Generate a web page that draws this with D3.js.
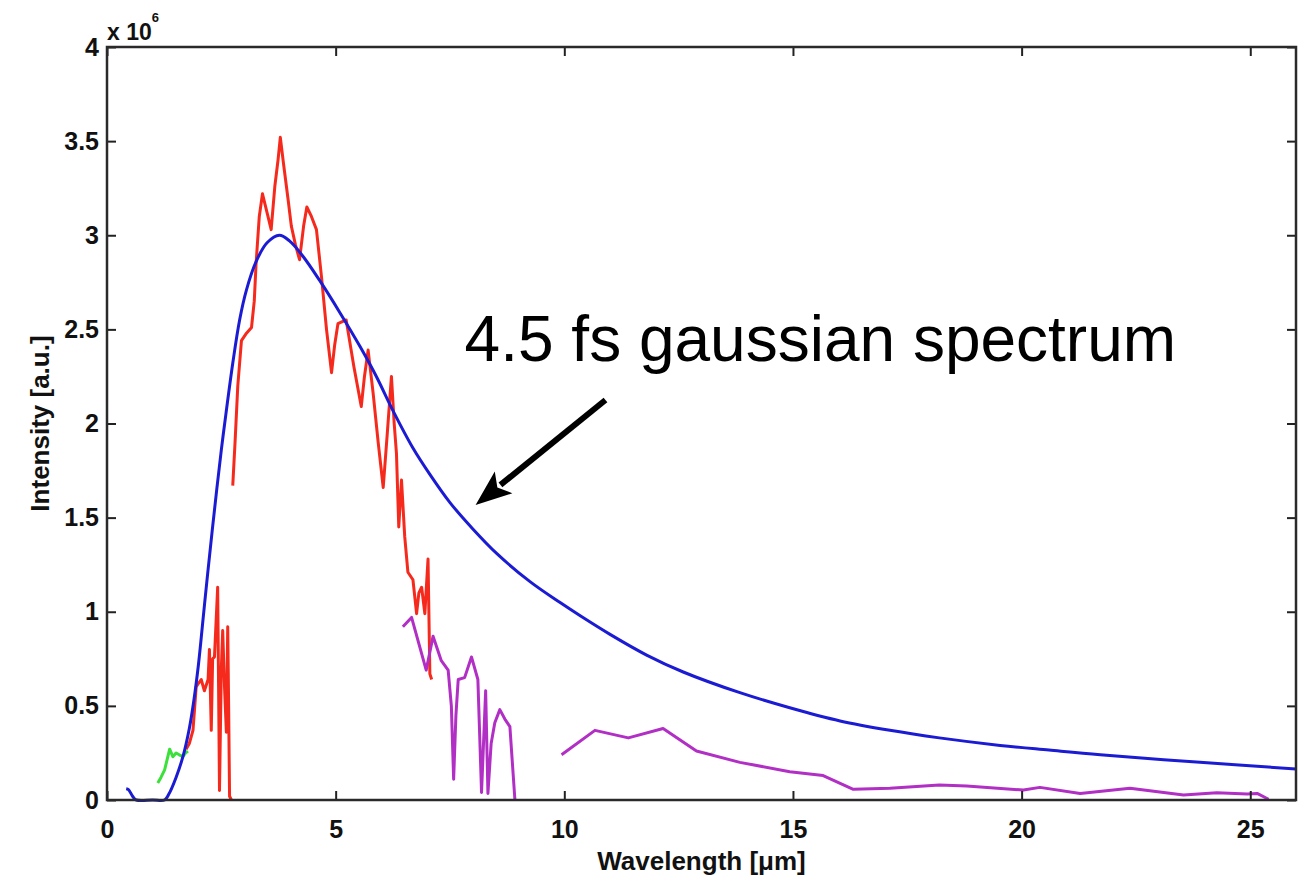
<!DOCTYPE html>
<html>
<head>
<meta charset="utf-8">
<script src="https://cdn.jsdelivr.net/npm/d3@7"></script>
<style>
  body { margin: 0; background: #fff; }
  svg { display: block; }
  .tick text { font-family: "Liberation Sans", Arial, sans-serif; font-weight: bold; font-size: 25px; fill: #111; }
</style>
</head>
<body>
<div id="chart"></div>
<script>
// Wavelength in µm, intensity in units of 1e6
const blueX = [0.42, 0.47, 0.56, 0.64, 1.0, 1.26, 1.35, 1.51, 1.66, 1.8, 1.9, 2.0, 2.1, 2.2, 2.3, 2.4, 2.5, 2.6, 2.75, 2.9, 3.05, 3.26, 3.5, 3.77, 3.99, 4.28, 4.65, 5.09, 5.53, 5.89, 6.25, 6.69, 7.06, 7.5, 8.0, 8.52, 9.25, 9.9, 10.34, 11.0, 11.8, 12.6, 13.84, 14.93, 16.03, 17.12, 18.2, 19.53, 20.6, 21.72, 23.9, 26.0];
const blueY = [0.06, 0.055, 0.02, 0.0, 0.0, 0.0, 0.03, 0.12, 0.23, 0.38, 0.53, 0.72, 0.96, 1.2, 1.43, 1.65, 1.86, 2.05, 2.32, 2.55, 2.71, 2.86, 2.96, 3.0, 2.97, 2.89, 2.76, 2.59, 2.41, 2.25, 2.07, 1.87, 1.73, 1.58, 1.44, 1.31, 1.16, 1.05, 0.98, 0.88, 0.77, 0.68, 0.57, 0.49, 0.42, 0.37, 0.33, 0.29, 0.265, 0.24, 0.2, 0.165];

const redLowX = [1.73, 1.80, 1.88, 1.95, 2.00, 2.06, 2.13, 2.21, 2.24, 2.28, 2.31, 2.35, 2.42, 2.44, 2.46, 2.50, 2.53, 2.57, 2.61, 2.64, 2.66, 2.68, 2.72];
const redLowY = [0.27, 0.30, 0.37, 0.60, 0.62, 0.64, 0.58, 0.64, 0.80, 0.37, 0.75, 0.76, 1.13, 0.60, 0.05, 0.70, 0.90, 0.60, 0.36, 0.92, 0.50, 0.02, 0.0];

const redHighX = [2.75, 2.80, 2.86, 2.94, 3.05, 3.16, 3.22, 3.26, 3.33, 3.40, 3.50, 3.59, 3.67, 3.74, 3.79, 3.86, 3.96, 4.03, 4.12, 4.21, 4.30, 4.37, 4.47, 4.58, 4.69, 4.80, 4.91, 4.98, 5.05, 5.23, 5.40, 5.56, 5.63, 5.71, 5.82, 5.93, 6.04, 6.13, 6.22, 6.28, 6.33, 6.38, 6.44, 6.51, 6.58, 6.69, 6.77, 6.82, 6.88, 6.95, 7.02, 7.06, 7.10];
const redHighY = [1.67, 1.90, 2.20, 2.44, 2.48, 2.51, 2.65, 2.85, 3.10, 3.22, 3.12, 3.03, 3.26, 3.40, 3.52, 3.38, 3.19, 3.05, 2.95, 2.87, 3.05, 3.15, 3.10, 3.03, 2.78, 2.50, 2.27, 2.42, 2.53, 2.55, 2.30, 2.09, 2.25, 2.39, 2.16, 1.90, 1.66, 1.95, 2.25, 2.00, 1.84, 1.45, 1.70, 1.40, 1.21, 1.17, 0.99, 1.10, 1.13, 0.99, 1.28, 0.67, 0.64];

const greenX = [1.11, 1.18, 1.26, 1.32, 1.37, 1.44, 1.51, 1.58, 1.66, 1.72, 1.77];
const greenY = [0.09, 0.12, 0.16, 0.22, 0.27, 0.23, 0.25, 0.24, 0.23, 0.25, 0.26];

const magentaAX = [6.47, 6.66, 6.98, 7.13, 7.31, 7.46, 7.53, 7.58, 7.63, 7.68, 7.82, 7.97, 8.11, 8.19, 8.28, 8.33, 8.40, 8.48, 8.59, 8.70, 8.81, 8.92];
const magentaAY = [0.92, 0.97, 0.69, 0.87, 0.74, 0.69, 0.50, 0.11, 0.45, 0.64, 0.65, 0.76, 0.64, 0.04, 0.58, 0.035, 0.30, 0.41, 0.48, 0.43, 0.39, 0.0];

const magentaBX = [9.94, 10.67, 11.40, 12.16, 12.89, 13.84, 14.93, 15.66, 16.32, 17.12, 18.2, 18.8, 20.04, 20.40, 21.28, 22.37, 23.54, 24.27, 24.93, 25.15, 25.40];
const magentaBY = [0.24, 0.37, 0.33, 0.38, 0.26, 0.20, 0.15, 0.13, 0.057, 0.062, 0.08, 0.074, 0.053, 0.067, 0.035, 0.062, 0.027, 0.039, 0.032, 0.035, 0.004];

const xTicks = [0, 5, 10, 15, 20, 25];
const yTicks = [0, 0.5, 1, 1.5, 2, 2.5, 3, 3.5, 4];

const annotationText = '4.5 fs gaussian spectrum';
const arrowTail = [10.90, 2.125];
const arrowTip = [8.06, 1.567];
const textAnchor = [7.82, 2.33];

const width = 1305;
const height = 884;
const margin = { top: 47, right: 9, bottom: 84, left: 107 };
const colors = {
    blue: '#1b1bd4',
    red: '#f52a1c',
    green: '#3be03b',
    magenta: '#b12fc4'
};

const svg = d3.select('#chart')
    .append('svg')
    .attr('width', width)
    .attr('height', height);

const x = d3.scaleLinear()
    .domain([0, 26])
    .range([margin.left, width - margin.right]);

const y = d3.scaleLinear()
    .domain([0, 4])
    .range([height - margin.bottom, margin.top]);

const toPoints = (xs, ys) => xs.map((v, i) => [v, ys[i]]);

const line = d3.line()
    .x(d => x(d[0]))
    .y(d => y(d[1]));

// measured spectra, straight segments between samples
const series = [
    { pts: toPoints(greenX, greenY), color: colors.green },
    { pts: toPoints(redLowX, redLowY), color: colors.red },
    { pts: toPoints(redHighX, redHighY), color: colors.red },
    { pts: toPoints(magentaAX, magentaAY), color: colors.magenta },
    { pts: toPoints(magentaBX, magentaBY), color: colors.magenta }
];

const plot = svg.append('g');

plot.selectAll('path.series')
    .data(series)
    .join('path')
    .attr('class', 'series')
    .attr('d', d => line(d.pts))
    .attr('fill', 'none')
    .attr('stroke', d => d.color)
    .attr('stroke-width', 3)
    .attr('stroke-linejoin', 'round');

// smooth gaussian spectrum
const smoothLine = d3.line()
    .x(d => x(d[0]))
    .y(d => y(d[1]))
    .curve(d3.curveCatmullRom.alpha(0.5));

plot.append('path')
    .attr('d', smoothLine(toPoints(blueX, blueY)))
    .attr('fill', 'none')
    .attr('stroke', colors.blue)
    .attr('stroke-width', 3);

// axes, ticks pointing inwards on all four sides
const tickLen = 9;
const styleAxis = g => {
    g.select('.domain').remove();
    g.selectAll('.tick line').attr('stroke', '#222').attr('stroke-width', 2);
};

svg.append('g')
    .attr('transform', `translate(0,${y(0)})`)
    .call(d3.axisBottom(x).tickValues(xTicks).tickSizeInner(-tickLen).tickSizeOuter(0).tickPadding(20))
    .call(styleAxis);

svg.append('g')
    .attr('transform', `translate(0,${y(4)})`)
    .call(d3.axisTop(x).tickValues(xTicks).tickSizeInner(-tickLen).tickSizeOuter(0).tickFormat(''))
    .call(styleAxis);

svg.append('g')
    .attr('transform', `translate(${x(0)},0)`)
    .call(d3.axisLeft(y).tickValues(yTicks).tickSizeInner(-tickLen).tickSizeOuter(0).tickPadding(8).tickFormat(d => d))
    .call(styleAxis);

svg.append('g')
    .attr('transform', `translate(${x(26)},0)`)
    .call(d3.axisRight(y).tickValues(yTicks).tickSizeInner(-tickLen).tickSizeOuter(0).tickFormat(''))
    .call(styleAxis);

// frame
svg.append('rect')
    .attr('x', x(0))
    .attr('y', y(4))
    .attr('width', x(26) - x(0))
    .attr('height', y(0) - y(4))
    .attr('fill', 'none')
    .attr('stroke', '#2a2a2a')
    .attr('stroke-width', 2.5);

// exponent label
const expo = svg.append('text')
    .attr('x', x(0))
    .attr('y', 40)
    .style('font-family', '"Liberation Sans", Arial, sans-serif')
    .style('font-weight', 'bold')
    .style('font-size', '23px')
    .attr('fill', '#111');
expo.append('tspan').text('x 10');
expo.append('tspan').attr('dy', -18).style('font-size', '13px').text('6');

// axis labels
svg.append('text')
    .attr('x', (x(0) + x(26)) / 2)
    .attr('y', 870)
    .style('text-anchor', 'middle')
    .style('font-family', '"Liberation Sans", Arial, sans-serif')
    .style('font-weight', 'bold')
    .style('font-size', '26px')
    .attr('fill', '#111')
    .text('Wavelength [\u03bcm]');

svg.append('text')
    .attr('transform', `translate(49,${(y(0) + y(4)) / 2}) rotate(-90)`)
    .style('text-anchor', 'middle')
    .style('font-family', '"Liberation Sans", Arial, sans-serif')
    .style('font-weight', 'bold')
    .style('font-size', '26px')
    .attr('fill', '#111')
    .text('Intensity [a.u.]');

// annotation with arrow
svg.append('text')
    .attr('x', x(textAnchor[0]))
    .attr('y', y(textAnchor[1]))
    .style('font-family', '"Liberation Sans", Arial, sans-serif')
    .style('font-size', '64px')
    .attr('fill', '#000')
    .text(annotationText);

const tx = x(arrowTail[0]), ty = y(arrowTail[1]);
const hx = x(arrowTip[0]), hy = y(arrowTip[1]);
const ang = Math.atan2(hy - ty, hx - tx);
const headLen = 36, headHalf = 14;
const bx = hx - headLen * Math.cos(ang), by = hy - headLen * Math.sin(ang);

svg.append('line')
    .attr('x1', tx).attr('y1', ty)
    .attr('x2', bx + 4 * Math.cos(ang)).attr('y2', by + 4 * Math.sin(ang))
    .attr('stroke', '#000')
    .attr('stroke-width', 6);

svg.append('path')
    .attr('d', d3.line()([
        [hx, hy],
        [bx + headHalf * Math.sin(ang), by - headHalf * Math.cos(ang)],
        [bx + 8 * Math.cos(ang), by + 8 * Math.sin(ang)],
        [bx - headHalf * Math.sin(ang), by + headHalf * Math.cos(ang)]
    ]) + 'Z')
    .attr('fill', '#000');
</script>
</body>
</html>
